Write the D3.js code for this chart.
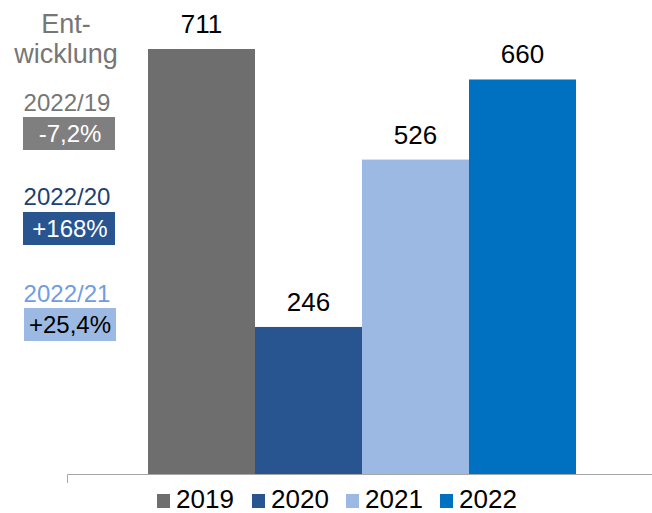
<!DOCTYPE html>
<html><head><meta charset="utf-8">
<script src="https://cdn.jsdelivr.net/npm/d3@7"></script>
<style>html,body{margin:0;padding:0;background:#fff;}svg{display:block;font-family:"Liberation Sans",Arial,sans-serif;}</style>
</head><body>
<script>
const years = ["2019", "2020", "2021", "2022"];
const values = [711, 246, 526, 660];
const colors = ["#6e6e6e", "#28548f", "#9cb9e3", "#0070c0"];
const devLabels = ["2022/19", "2022/20", "2022/21"];
const devValues = ["-7,2%", "+168%", "+25,4%"];
const devLabelColors = ["#767676", "#1f3f74", "#6f9de0"];
const devBoxColors = ["#7f7f7f", "#28548f", "#9cb9e3"];
const devTextColors = ["#ffffff", "#ffffff", "#000000"];
const headerLines = ["Ent-", "wicklung"];

const W = 652, H = 513;
const svg = d3.select("body").append("svg").attr("width", W).attr("height", H);

const x = d3.scaleBand().domain(years).range([148, 576]).padding(0);
const y = d3.scaleLinear().domain([0, 711]).range([474, 49]);

// bars
svg.selectAll("rect.bar").data(years).join("rect")
  .attr("class", "bar")
  .attr("x", d => x(d)).attr("width", x.bandwidth())
  .attr("y", (d, i) => y(values[i])).attr("height", (d, i) => y(0) - y(values[i]))
  .attr("fill", (d, i) => colors[i]);

// value labels
svg.selectAll("text.val").data(years).join("text")
  .attr("class", "val")
  .attr("x", d => x(d) + x.bandwidth() / 2)
  .attr("y", (d, i) => y(values[i]) - 16)
  .attr("text-anchor", "middle").attr("font-size", 26).attr("fill", "#000")
  .text((d, i) => values[i]);

// axis line
svg.append("path").attr("d", `M67.5,483V${y(0) + 0.5}H652`)
  .attr("fill", "none").attr("stroke", "#a6a6a6").attr("stroke-width", 1);

// legend
const legX = [157, 252, 346, 440];
const leg = svg.selectAll("g.leg").data(years).join("g").attr("class", "leg")
  .attr("transform", (d, i) => `translate(${legX[i]},0)`);
leg.append("rect").attr("x", 0).attr("y", 494).attr("width", 13).attr("height", 14)
  .attr("fill", (d, i) => colors[i]);
leg.append("text").attr("x", 19).attr("y", 508).attr("font-size", 26).attr("fill", "#000").text(d => d);

// header
svg.selectAll("text.hdr").data(headerLines).join("text").attr("class", "hdr")
  .attr("x", 66).attr("y", (d, i) => 33 + i * 30)
  .attr("text-anchor", "middle").attr("font-size", 27).attr("fill", "#767676").text(d => d);

// development labels
const devY = [111, 205, 302];
const boxY = [117, 212, 308];
const g = svg.selectAll("g.dev").data(devLabels).join("g").attr("class", "dev");
g.append("text").attr("x", 67).attr("y", (d, i) => devY[i])
  .attr("text-anchor", "middle").attr("font-size", 24)
  .attr("fill", (d, i) => devLabelColors[i]).text(d => d);
g.append("rect").attr("x", (d, i) => i === 2 ? 24 : 23).attr("y", (d, i) => boxY[i])
  .attr("width", 92).attr("height", 33)
  .attr("fill", (d, i) => devBoxColors[i]);
g.append("text").attr("x", 70).attr("y", (d, i) => boxY[i] + 25)
  .attr("text-anchor", "middle").attr("font-size", 24)
  .attr("fill", (d, i) => devTextColors[i]).text((d, i) => devValues[i]);
</script>
</body></html>
